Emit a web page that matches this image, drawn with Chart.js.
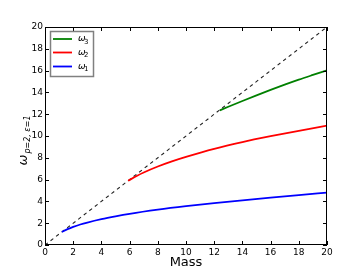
<!DOCTYPE html>
<html><head><meta charset="utf-8">
<script src="https://cdn.jsdelivr.net/npm/chart.js@4"></script>
<style>html,body{margin:0;padding:0;background:#fff}#c{display:block}</style>
</head><body>
<canvas id="c" width="363" height="273"></canvas>
<script>
const tickValues = [0,2,4,6,8,10,12,14,16,18,20];
const mass1 = [1.2,1.6,2,2.5,3,4,5,6,8,10,12,14,16,18,20];
const omega1 = [1.2,1.45,1.66,1.88,2.06,2.37,2.63,2.86,3.24,3.56,3.84,4.1,4.35,4.58,4.8];
const mass2 = [5.9,6.5,7,8,9,10,12,14,16,18,20];
const omega2 = [5.9,6.33,6.65,7.2,7.67,8.08,8.82,9.44,9.98,10.48,10.95];
const mass3 = [12.4,13,14,15,16,17,18,19,20];
const omega3 = [12.35,12.68,13.21,13.73,14.23,14.71,15.17,15.6,16.02];
const diagX = [0,20];
const diagY = [0,20];

const pts = (xs, ys) => xs.map((x,i)=>({x:x,y:ys[i]}));
const L = {left:45, right:327, top:27, bottom:245};

const deco = {
  id:'deco',
  afterDraw(chart){
    const ctx = chart.ctx, a = chart.chartArea;
    const xs = chart.scales.x, ys = chart.scales.y;
    ctx.save();
    ctx.strokeStyle = '#000'; ctx.lineWidth = 1;
    ctx.strokeRect(a.left+0.5, a.top+0.5, a.right-a.left-1, a.bottom-a.top-1);
    ctx.beginPath();
    tickValues.forEach(v=>{
      const px = Math.round(xs.getPixelForValue(v))+0.5;
      ctx.moveTo(px,a.bottom); ctx.lineTo(px,a.bottom-4);
      ctx.moveTo(px,a.top); ctx.lineTo(px,a.top+4);
      const py = Math.round(ys.getPixelForValue(v))+0.5;
      ctx.moveTo(a.left,py); ctx.lineTo(a.left+4,py);
      ctx.moveTo(a.right,py); ctx.lineTo(a.right-4,py);
    });
    ctx.stroke();
    // legend
    const lx=50, ly=31, lw=43, lh=45;
    ctx.fillStyle='#fff'; ctx.fillRect(lx,ly,lw,lh);
    ctx.strokeStyle='#808080'; ctx.lineWidth=1.5;
    ctx.strokeRect(lx+0.5,ly+0.5,lw,lh);
    const order=[2,1,0], rows=[39,52.5,66.5];
    order.forEach((di,i)=>{
      const ds = chart.data.datasets[di];
      ctx.strokeStyle=ds.borderColor; ctx.lineWidth=1.8;
      ctx.beginPath(); ctx.moveTo(53,rows[i]); ctx.lineTo(72,rows[i]); ctx.stroke();
      ctx.fillStyle='#000';
      ctx.font='italic 9px "DejaVu Sans"'; ctx.textBaseline='middle'; ctx.textAlign='left';
      ctx.fillText('ω',78,rows[i]);
      ctx.font='7px "DejaVu Sans"';
      ctx.fillText(ds.sub,84,rows[i]+3);
    });
    // x title
    ctx.fillStyle='#000';
    ctx.font='13px "DejaVu Sans"'; ctx.textAlign='center'; ctx.textBaseline='middle';
    ctx.fillText('Mass',(a.left+a.right)/2,263);
    // y title
    ctx.translate(22,141); ctx.rotate(-Math.PI/2);
    ctx.textAlign='left'; ctx.textBaseline='alphabetic';
    ctx.font='italic 13px "DejaVu Sans"';
    const w = ctx.measureText('ω').width;
    ctx.font='italic 8px "DejaVu Sans"';
    const sub='p=2, ε=1';
    const sw = ctx.measureText(sub).width;
    const start = -(w+sw)/2;
    ctx.font='italic 13px "DejaVu Sans"';
    ctx.fillText('ω',start,5);
    ctx.font='italic 8px "DejaVu Sans"';
    ctx.fillText(sub,start+w+1,8);
    ctx.restore();
  }
};

new Chart(document.getElementById('c'),{
  type:'scatter',
  data:{datasets:[
    {label:'ω1',sub:'1',data:pts(mass1,omega1),showLine:true,borderColor:'#0000ff',borderWidth:1.8,pointRadius:0,cubicInterpolationMode:'monotone',fill:false},
    {label:'ω2',sub:'2',data:pts(mass2,omega2),showLine:true,borderColor:'#ff0000',borderWidth:1.8,pointRadius:0,cubicInterpolationMode:'monotone',fill:false},
    {label:'ω3',sub:'3',data:pts(mass3,omega3),showLine:true,borderColor:'#008000',borderWidth:1.8,pointRadius:0,cubicInterpolationMode:'monotone',fill:false},
    {label:'diag',data:pts(diagX,diagY),showLine:true,borderColor:'#222',borderWidth:1.1,borderDash:[3.5,3.5],pointRadius:0,fill:false}
  ]},
  options:{
    responsive:false, animation:false,
    layout:{padding:{left:0,top:L.top,right:363-L.right,bottom:0}},
    plugins:{legend:{display:false},tooltip:{enabled:false}},
    scales:{
      x:{type:'linear',min:0,max:20,
        afterFit(s){s.height=273-L.bottom;},
        afterBuildTicks(s){s.ticks=tickValues.map(v=>({value:v}));},
        grid:{display:false,drawTicks:false,tickLength:0},border:{display:false},
        ticks:{color:'#000',font:{family:'DejaVu Sans',size:9},padding:2,maxRotation:0}},
      y:{type:'linear',min:0,max:20,
        afterFit(s){s.width=L.left;},
        afterBuildTicks(s){s.ticks=tickValues.map(v=>({value:v}));},
        grid:{display:false,drawTicks:false,tickLength:0},border:{display:false},
        ticks:{color:'#000',font:{family:'DejaVu Sans',size:9},padding:2}}
    }
  },
  plugins:[deco]
});
</script>
</body></html>
